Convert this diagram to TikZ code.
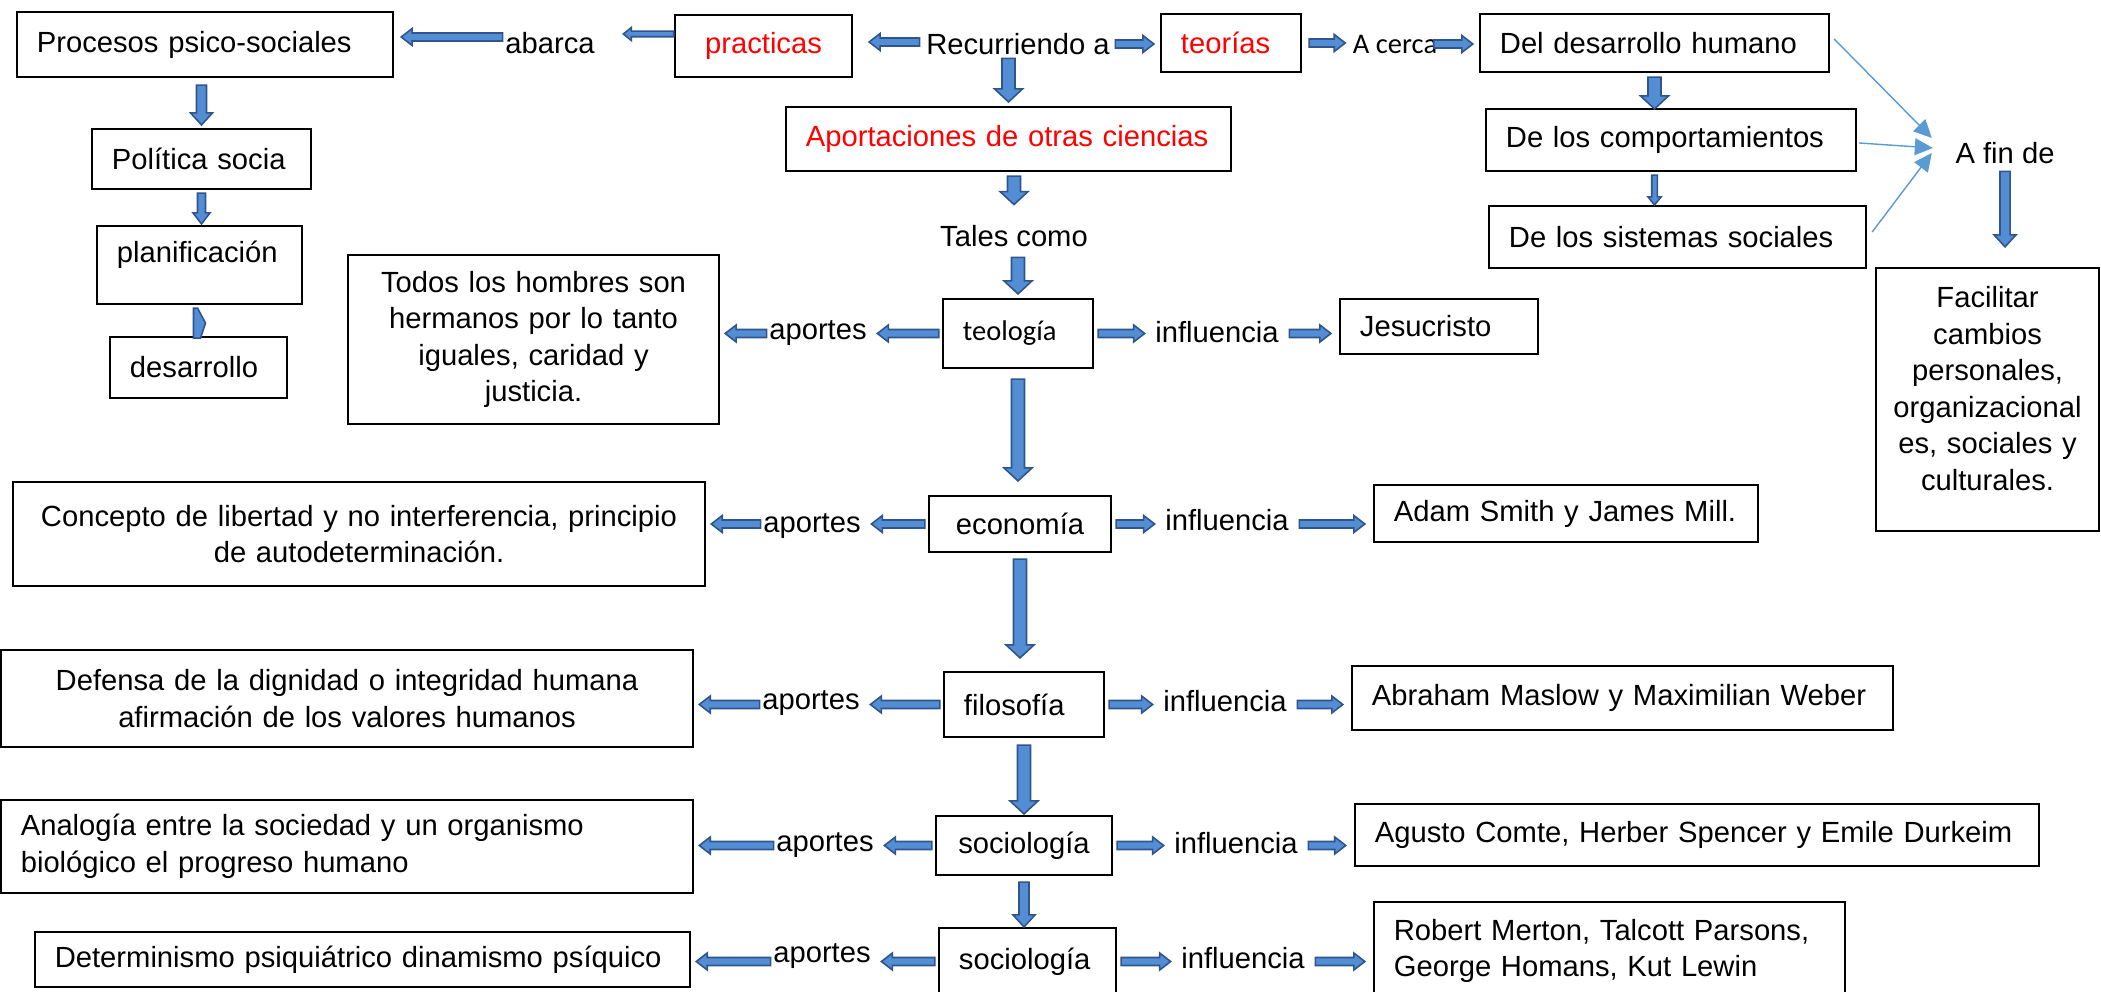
\documentclass[tikz,border=0pt]{standalone}
\usepackage{fontspec}
\setmainfont{Liberation Sans}
\newfontfamily\carlito{Carlito}
\usetikzlibrary{calc,arrows.meta}
\definecolor{arrfill}{RGB}{83,142,213}
\definecolor{arrline}{RGB}{47,85,140}
\definecolor{finline}{RGB}{91,155,213}
\newcommand\fs{\fontsize{8.3}{10.4}\selectfont}
\newcommand\cfs{\carlito\fontsize{8.1}{10}\selectfont}
%% block arrow from #2 to #3 (head at #3)
\newcommand\blockarr[3][]{%
  \coordinate (bs) at (#2);
  \coordinate (be) at (#3);
  \begin{scope}[arrstyle,#1]
    \coordinate (bh) at ($(be)!\hdl!(bs)$);
    \filldraw ($(bs)!\shw!90:(be)$) -- ($(bh)!\shw!90:(be)$) -- ($(bh)!\hdw!90:(be)$) -- (be)
      -- ($(bh)!\hdw!-90:(be)$) -- ($(bh)!\shw!-90:(be)$) -- ($(bs)!\shw!-90:(be)$) -- cycle;
  \end{scope}}

\begin{document}
\begin{tikzpicture}[x=0.01cm,y=-0.01cm,
    boxnode/.style={draw,line width=0.6pt,font=\fs,align=left,inner xsep=2mm,inner ysep=0pt},
    cbox/.style={boxnode,align=center},
    txtnode/.style={inner sep=0pt,font=\fs},
    arrstyle/.style={fill=arrfill,draw=arrline,line width=0.45pt,arrSm},
    arrBig/.code={\def\shw{0.65mm}\def\hdw{1.4mm}\def\hdl{1.3mm}},
    arrMid/.code={\def\shw{0.5mm}\def\hdw{1.1mm}\def\hdl{1.2mm}},
    arrSm/.code={\def\shw{0.4mm}\def\hdw{0.85mm}\def\hdl{1.1mm}},
    arrTiny/.code={\def\shw{0.28mm}\def\hdw{0.65mm}\def\hdl{0.8mm}}]

  %%%% Frame of the page %%%%
  \useasboundingbox (0,0) rectangle (2101,992);
  \clip (0,0) rectangle (2101,992);
  \fill[white] (0,0) rectangle (2101,992);

  %% Left column
  \node[boxnode,text width=3.36cm,minimum height=0.65cm] (procesos) at (205,44.5) {Procesos psico-sociales};
  \node[boxnode,text width=1.79cm,minimum height=0.60cm] (politica) at (201.5,159) {Política socia};
  \node[boxnode,text width=1.65cm,minimum height=0.78cm,text depth=2.6mm] (planif) at (199.5,265) {planificación};
  \node[boxnode,text width=1.37cm,minimum height=0.61cm] (desarrollo) at (198.5,367.5) {desarrollo};

  %% Top row
  \node[txtnode] (abarca) at (550,43) {abarca};
  \node[cbox,text=red,text width=1.37cm,minimum height=0.62cm] (practicas) at (763.5,46) {practicas};
  \node[txtnode] (recurriendo) at (1018,44) {Recurriendo a};
  \node[boxnode,text=red,text width=1.00cm,minimum height=0.58cm] (teorias) at (1231,43) {teorías};
  \node[txtnode,font=\cfs] (acerca) at (1395,44) {A cerca};
  \node[boxnode,text width=3.09cm,minimum height=0.58cm] (desarrolloh) at (1654.5,43) {Del desarrollo humano};
  \node[boxnode,text=red,text width=4.05cm,minimum height=0.64cm] (aportaciones) at (1008.5,139) {Aportaciones de otras ciencias};
  \node[txtnode] (tales) at (1014,236) {Tales como};

  %% Right column
  \node[boxnode,text width=3.30cm,minimum height=0.62cm] (comport) at (1671,140) {De los comportamientos};
  \node[boxnode,text width=3.37cm,minimum height=0.62cm] (sistemas) at (1677.5,237) {De los sistemas sociales};
  \node[txtnode] (afin) at (2005,153) {A fin de};
  \node[cbox,text width=2.03cm,inner xsep=1mm,minimum height=2.63cm] (facilitar) at (1987.5,399.5)
    {Facilitar\\cambios\\personales,\\organizacional\\es, sociales y\\culturales.\rule[-2.2mm]{0pt}{0pt}};

  %% The disciplines
  \node[boxnode,font=\cfs,text width=1.10cm,minimum height=0.69cm] (teologia) at (1018,333.5) {teología};
  \node[cbox,text width=1.42cm,minimum height=0.56cm] (economia) at (1020,524) {economía};
  \node[boxnode,text width=1.20cm,minimum height=0.65cm] (filosofia) at (1024,704.5) {filosofía};
  \node[cbox,text width=1.36cm,minimum height=0.59cm] (sociol) at (1024,845.5) {sociología};
  \node[boxnode,text width=1.37cm,minimum height=0.67cm] (sociolb) at (1027.5,961.5) {sociología};

  %% Labels beside each discipline
  \foreach \n/\xa/\ya/\xi/\yi in {1/818/333/1217/332,2/812/526/1227/520,3/811/703/1225/701,4/825/845/1236/843,5/822/956/1243/958}{
    \node[txtnode] (ap\n) at (\xa,\ya) {aportes};
    \node[txtnode] (in\n) at (\xi,\yi) {influencia};
  }

  %% Aportes
  \node[cbox,text width=3.31cm,minimum height=1.69cm] (todos) at (533.5,339.5)
    {Todos los hombres son\\hermanos por lo tanto\\iguales, caridad y\\justicia.};
  \node[cbox,text width=6.52cm,minimum height=1.04cm] (concepto) at (359,534)
    {Concepto de libertad y no interferencia, principio\\de autodeterminación.};
  \node[cbox,text width=6.52cm,minimum height=0.97cm] (defensa) at (347,698.5)
    {Defensa de la dignidad o integridad humana\\afirmación de los valores humanos};
  \node[boxnode,text width=6.52cm,minimum height=0.93cm] (analogia) at (347,846.5)
    {Analogía entre la sociedad y un organismo\\biológico el progreso humano};
  \node[boxnode,text width=6.15cm,minimum height=0.55cm] (determ) at (362.5,959.5)
    {Determinismo psiquiátrico dinamismo psíquico};

  %% Influencias
  \node[boxnode,text width=1.58cm,minimum height=0.55cm] (jesus) at (1439,326.5) {Jesucristo};
  \node[boxnode,text width=3.44cm,minimum height=0.57cm] (adam) at (1566,513.5) {Adam Smith y James Mill.};
  \node[boxnode,text width=5.01cm,minimum height=0.64cm] (abraham) at (1622.5,698) {Abraham Maslow y Maximilian Weber};
  \node[boxnode,text width=6.44cm,minimum height=0.62cm] (agusto) at (1697,835) {Agusto Comte, Herber Spencer y Emile Durkeim};
  \node[boxnode,text width=4.31cm,minimum height=0.98cm] (robert) at (1609.5,951)
    {Robert Merton, Talcott Parsons,\\George Homans, Kut Lewin};

  %%%% Arrows %%%%
  %% Top row
  \blockarr{$(abarca.west)+(-2,-6)$}{$(procesos.east |- abarca.west)+(7,-6)$}
  \blockarr[arrTiny]{$(practicas.west)+(0,-12)$}{$(abarca.east |- practicas.west)+(28,-12)$}
  \blockarr{$(recurriendo.west)+(-6,-2)$}{$(practicas.east |- recurriendo.west)+(16,-2)$}
  \blockarr{$(recurriendo.east)+(5,0)$}{$(teorias.west |- recurriendo.east)+(-6,0)$}
  \blockarr{$(teorias.east)+(7,0)$}{$(acerca.west |- teorias.east)+(-7,0)$}
  \blockarr{$(acerca.east)+(-4,0)$}{$(desarrolloh.west |- acerca.east)+(-6,0)$}

  %% Down the middle
  \blockarr[arrBig]{$(recurriendo.south -| aportaciones.north)+(0,3)$}{$(aportaciones.north)+(0,-4)$}
  \blockarr[arrBig]{$(aportaciones.south -| tales.north)+(0,4)$}{$(tales.north)+(0,-20)$}
  \blockarr[arrBig]{$(tales.south -| teologia.north)+(0,10)$}{$(teologia.north)+(0,-4)$}
  \foreach \up/\dn/\ga/\gb in {teologia/economia/10/14,economia/filosofia/6/13,filosofia/sociol/7/1}{
    \blockarr[arrBig]{$(\up.south)+(0,\ga)$}{$(\up.south |- \dn.north)+(0,-\gb)$}
  }
  \blockarr[arrMid]{$(sociol.south)+(0,6)$}{$(sociol.south |- sociolb.north)$}

  %% Each row: aportes to the left, influencia to the right
  \foreach \disc/\apo/\inl/\lft/\rgt in {teologia/ap1/in1/todos/jesus,economia/ap2/in2/concepto/adam,filosofia/ap3/in3/defensa/abraham,sociol/ap4/in4/analogia/agusto,sociolb/ap5/in5/determ/robert}{
    \blockarr{$(\disc.west)+(-3,0)$}{$(\apo.east |- \disc.west)+(10,0)$}
    \blockarr{$(\apo.west |- \disc.west)+(-2,0)$}{$(\lft.east |- \disc.west)+(5,0)$}
    \blockarr{$(\disc.east)+(4,0)$}{$(\inl.west |- \disc.east)+(-10,0)$}
    \blockarr{$(\inl.east |- \disc.east)+(10,0)$}{$(\rgt.west |- \disc.east)+(-8,0)$}
  }

  %% Left column
  \blockarr[arrMid]{$(procesos.south -| politica.north)+(0,7)$}{$(politica.north)+(0,-3)$}
  \blockarr{$(politica.south)+(0,3)$}{$(politica.south |- planif.north)+(0,-1)$}
  \filldraw[arrstyle,shift={(planif.south)}] (-6,3) -- (-2,3) -- (6,18) -- (1,33) -- (-6,33) -- cycle;

  %% Right column
  \blockarr[arrBig]{$(desarrolloh.south)+(0,4)$}{$(desarrolloh.south |- comport.north)+(0,1)$}
  \blockarr[arrTiny]{$(comport.south -| desarrolloh.south)+(0,3)$}{$(sistemas.north -| desarrolloh.south)$}
  \blockarr[arrMid]{$(afin.south)+(0,7)$}{$(afin.south |- facilitar.north)+(0,-20)$}

  %% Thin lines into A fin de
  \coordinate (fin1) at ($(afin.west)+(-23,-15)$);
  \coordinate (fin2) at ($(afin.west)+(-22,-5)$);
  \coordinate (fin3) at ($(afin.west)+(-23,0)$);
  \draw[finline,line width=0.4pt,-{Triangle[length=1.8mm,width=1.7mm]}] ($(desarrolloh.east)+(4,-4)$) -- (fin1);
  \draw[finline,line width=0.4pt,-{Triangle[length=1.8mm,width=1.7mm]}] ($(comport.east)+(2,3)$) -- (fin2);
  \draw[finline,line width=0.4pt,-{Triangle[length=1.8mm,width=1.7mm]}] ($(sistemas.east)+(5,-5)$) -- (fin3);

\end{tikzpicture}
\end{document}
